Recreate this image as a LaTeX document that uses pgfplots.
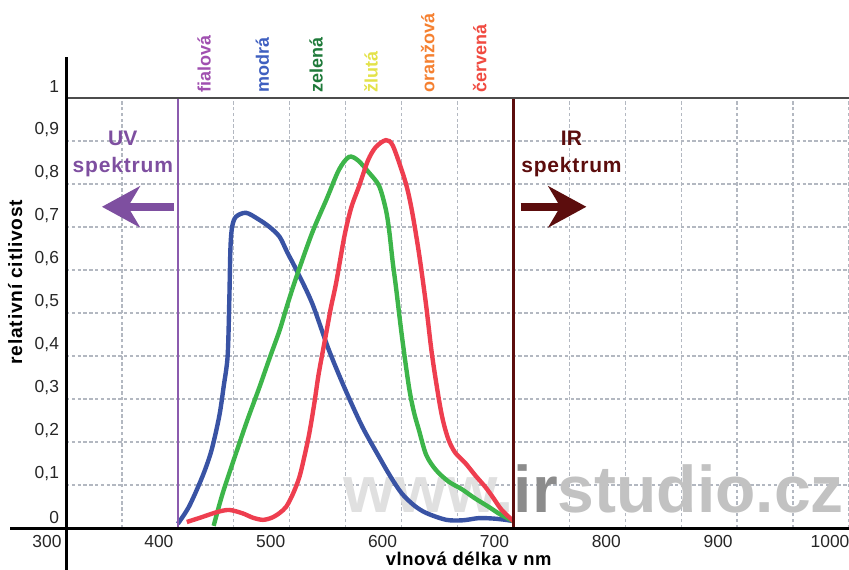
\documentclass[border=0pt]{standalone}
\usepackage{pgfplots}
\pgfplotsset{compat=1.18}
\usepackage{fontspec}
\setmainfont{Liberation Sans}
\usetikzlibrary{arrows.meta}
\definecolor{cblue}{HTML}{3953A4}
\definecolor{cgreen}{HTML}{3DB54A}
\definecolor{cred}{HTML}{EE3E4F}
\definecolor{uvline}{HTML}{8B5BAE}
\definecolor{uvtext}{HTML}{7E4FA0}
\definecolor{irc}{HTML}{5C0D0D}
\definecolor{gridc}{HTML}{B3B8C1}
\definecolor{lfial}{HTML}{A050B0}
\definecolor{lmod}{HTML}{3F5FC0}
\definecolor{lzel}{HTML}{1F7A3A}
\definecolor{lzlu}{HTML}{E3E24A}
\definecolor{lora}{HTML}{F58030}
\definecolor{lcer}{HTML}{F04A40}
\begin{document}
\begin{tikzpicture}
\path[use as bounding box] (-33pt,-20.5pt) rectangle (391.5pt,264pt);
\begin{axis}[
  at={(0,0)}, anchor=south west,
  scale only axis, width=391.5pt, height=215pt,
  xmin=300, xmax=1000, ymin=0, ymax=1,
  axis line style={draw=none},
  xtick={300,400,...,1000},
  minor xtick={350,450,...,950},
  ytick={0,0.1,0.2,0.3,0.4,0.5,0.6,0.7,0.8,0.9,1},
  major tick length=0pt, minor tick length=0pt,
  grid=both,
  major grid style={gridc, line width=0.7pt, dash pattern=on 1.7pt off 1.2pt},
  minor grid style={gridc, line width=0.7pt, dash pattern=on 1.7pt off 1.2pt},
  /pgf/number format/use comma,
  /pgf/number format/1000 sep={},
  /pgf/number format/assume math mode=true,
  ticklabel style={font=\fontsize{8.7}{10}\selectfont, text=black!85},
  xticklabel style={xshift=-9.5pt},
  yticklabel style={yshift=5.5pt},
  clip=false,
]
% watermark
\node[anchor=base west, inner sep=0pt, font=\fontsize{33}{36}\selectfont\bfseries] at (axis cs:548,0.037)
  {\textcolor{black!12}{www.}\textcolor{black!45}{ir}\textcolor{black!24}{studio.cz}};
% curves
\addplot[cblue, line width=2.2pt, smooth, tension=0.5] coordinates {
(400,0.01) (410,0.05) (422,0.12) (430,0.18) (437,0.26) (441,0.33) (444.5,0.40)
(446,0.53) (447,0.65) (448.5,0.70) (452,0.724) (461,0.733) (472,0.718) (482,0.70)
(491,0.677) (498,0.64) (506,0.60) (520,0.523) (535,0.414) (550,0.32) (565,0.235)
(580,0.165) (590,0.12) (600,0.081) (611,0.053) (622,0.035) (640,0.019) (655,0.018)
(669,0.023) (682,0.022) (693,0.019) (700,0.016)
};
\addplot[cgreen, line width=2.2pt, smooth, tension=0.5] coordinates {
(432,0.005) (440,0.08) (452,0.174) (462,0.25) (473,0.328) (482,0.395) (491,0.46)
(498,0.52) (506,0.584) (520,0.686) (533,0.765) (544,0.833) (553,0.863) (561,0.855)
(571,0.826) (580,0.795) (586,0.74) (589,0.69) (592,0.62) (595,0.56) (600.4,0.444)
(606.6,0.328) (611,0.27) (615.5,0.228) (622,0.17) (630.7,0.135) (642,0.108)
(654,0.09) (665,0.07) (678,0.049) (688,0.032) (700,0.016)
};
\addplot[cred, line width=2.2pt, smooth, tension=0.5] coordinates {
(408,0.014) (420,0.024) (435,0.037) (446,0.042) (458,0.034) (467,0.024) (476,0.019)
(484,0.024) (491,0.035) (497,0.05) (503,0.08) (508.6,0.118) (513,0.165) (517.5,0.22)
(522,0.29) (526,0.36) (532.6,0.453) (537,0.515) (541.5,0.57) (549,0.68) (555,0.745)
(562,0.795) (570,0.855) (577,0.886) (586,0.902) (592,0.89) (600,0.833) (605,0.79)
(609.6,0.733) (615.5,0.64) (621.7,0.523) (627,0.407) (633,0.305) (637,0.25)
(642,0.205) (648,0.175) (657,0.151) (666,0.122) (675,0.095) (682,0.07) (689.5,0.042)
(700,0.016)
};
% boundary lines
\draw[uvline, line width=1pt] (axis cs:400,0) -- (axis cs:400,1);
\draw[irc, line width=1.1pt] (axis cs:700,0) -- (axis cs:700,1);
% UV / IR annotations
\node[font=\fontsize{10.5}{12}\selectfont\bfseries, text=uvtext, inner sep=0pt] at (axis cs:350.8,0.907) {UV};
\node[font=\fontsize{10.5}{12}\selectfont\bfseries\addfontfeature{LetterSpace=4}, text=uvtext, inner sep=0pt] at (axis cs:350.8,0.840) {spektrum};
\draw[uvtext, line width=4pt, -{Stealth[length=19pt, width=20.5pt, inset=6pt]}] (axis cs:396.3,0.747) -- (axis cs:332.1,0.747);
\node[font=\fontsize{10.5}{12}\selectfont\bfseries, text=irc, inner sep=0pt] at (axis cs:751.9,0.907) {IR};
\node[font=\fontsize{10.5}{12}\selectfont\bfseries\addfontfeature{LetterSpace=4}, text=irc, inner sep=0pt] at (axis cs:751.9,0.840) {spektrum};
\draw[irc, line width=4pt, -{Stealth[length=19pt, width=20.5pt, inset=6pt]}] (axis cs:706.4,0.747) -- (axis cs:765.2,0.747);
% colour names
\node[rotate=90, anchor=west, inner sep=0pt, text=lfial, font=\fontsize{9}{10}\selectfont\bfseries] at (axis cs:423.4,1.012) {fialová};
\node[rotate=90, anchor=west, inner sep=0pt, text=lmod, font=\fontsize{9}{10}\selectfont\bfseries] at (axis cs:475.6,1.012) {modrá};
\node[rotate=90, anchor=west, inner sep=0pt, text=lzel, font=\fontsize{9}{10}\selectfont\bfseries] at (axis cs:523.7,1.012) {zelená};
\node[rotate=90, anchor=west, inner sep=0pt, text=lzlu, font=\fontsize{9}{10}\selectfont\bfseries] at (axis cs:572.7,1.012) {žlutá};
\node[rotate=90, anchor=west, inner sep=0pt, text=lora, font=\fontsize{9}{10}\selectfont\bfseries] at (axis cs:623.5,1.012) {oranžová};
\node[rotate=90, anchor=west, inner sep=0pt, text=lcer, font=\fontsize{9}{10}\selectfont\bfseries] at (axis cs:669.9,1.012) {červená};
% axis lines
\draw[black!70, line width=1.1pt] (axis cs:300,1) -- (axis cs:1000,1);
\draw[black, line width=1.5pt] (axis cs:250,0) -- (axis cs:1000,0);
\draw[black, line width=1.5pt] (axis cs:300,-0.1) -- (axis cs:300,1.095);
% axis labels
\node[font=\fontsize{9.2}{11}\selectfont\bfseries\addfontfeature{LetterSpace=3}, inner sep=0pt] at (axis cs:660,-0.071) {vlnová délka v nm};
\node[rotate=90, font=\fontsize{9.6}{11}\selectfont\bfseries\addfontfeature{LetterSpace=4}, inner sep=0pt] at (axis cs:254.5,0.572) {relativní citlivost};
\end{axis}
\end{tikzpicture}
\end{document}
